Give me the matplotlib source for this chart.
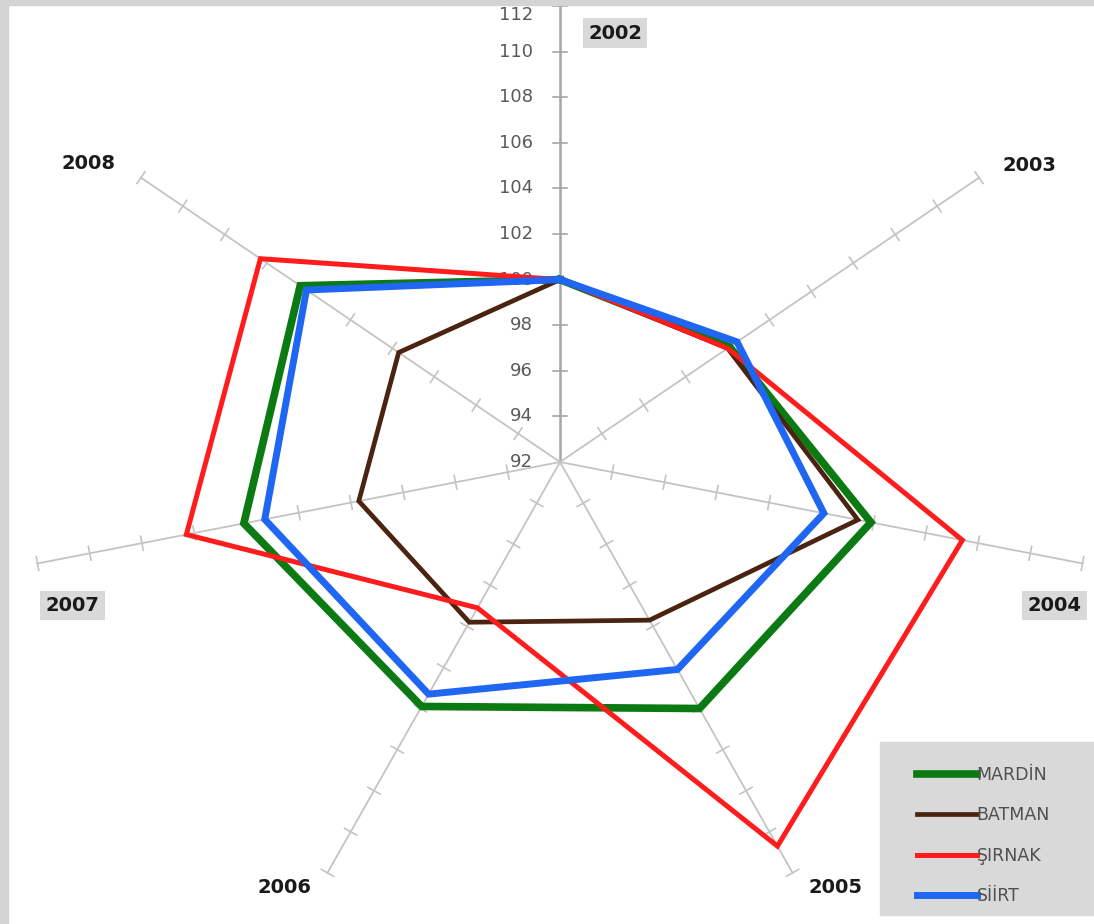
import numpy as np
import matplotlib.pyplot as plt
from matplotlib.patches import Rectangle

years = ['2002', '2003', '2004', '2005', '2006', '2007', '2008']
mardin = [100.0, 100.1, 103.9, 104.0, 103.9, 104.1, 104.4]
batman = [100.0, 100.0, 103.4, 99.7, 99.8, 99.7, 99.7]
sirnak = [100.0, 100.0, 107.4, 110.7, 99.1, 106.3, 106.3]
siirt = [100.0, 100.45, 102.1, 102.1, 103.3, 103.3, 104.1]
names = ['MARDİN', 'BATMAN', 'ŞIRNAK', 'SİİRT']

r_min, r_max, r_step = 92, 112, 2

# pixels per unit along x and y (the chart is a bit wider than tall)
sx, sy = 26.8, 22.8
cx, cy = 560, 462
W, H = 1094, 924

n = len(years)
angles = np.pi / 2 - np.arange(n) * 2 * np.pi / n


def to_xy(vals):
    r = np.asarray(vals) - r_min
    x = r * np.cos(angles)
    y = r * np.sin(angles)
    return np.append(x, x[0]), np.append(y, y[0])


fig = plt.figure(figsize=(W / 100, H / 100), dpi=100)
ax = fig.add_axes([0, 0, 1, 1])
ax.set_xlim(-cx / sx, (W - cx) / sx)
ax.set_ylim(-(H - cy) / sy, cy / sy)
ax.axis('off')

# spokes with small cross ticks every 2 units
R = r_max - r_min
for i, a in enumerate(angles):
    c, s = np.cos(a), np.sin(a)
    main = i == 0
    col = '#a6a6a6' if main else '#c4c4c4'
    ax.plot([0, R * c], [0, R * s], color=col, lw=1.8 if main else 1.3, zorder=1)
    dx, dy = c * sx, s * sy
    L = np.hypot(dx, dy)
    px, py = -dy / L, dx / L
    half = 7
    for v in range(r_min + r_step, r_max + 1, r_step):
        t = v - r_min
        ax.plot([t * c - half * px / sx, t * c + half * px / sx],
                [t * s - half * py / sy, t * s + half * py / sy],
                color=col, lw=1.2, zorder=1)

# value labels on the first spoke
for v in range(r_min, r_max + 1, r_step):
    yv = v - r_min
    va = 'center'
    if v == r_max:
        yv = (cy - 6) / sy
        va = 'top'
    ax.text(-1.0, yv, str(v), ha='right', va=va,
            fontsize=13, color='#5a5a5a', zorder=2)

# category labels
offsets = [(55, -27), (50, 12), (-28, -42), (43, -15), (-43, -15), (35, -42), (-52, 14)]
boxed = {'2002', '2004', '2007'}
for yr, a, off in zip(years, angles, offsets):
    kw = {}
    if yr in boxed:
        kw['bbox'] = dict(boxstyle='square,pad=0.28', fc='#d9d9d9', ec='none')
    ax.annotate(yr, (R * np.cos(a), R * np.sin(a)), xytext=off,
                textcoords='offset pixels', ha='center', va='center',
                fontsize=14, fontweight='bold', color='#1a1a1a', **kw)

series = [
    (mardin, '#0b7a12', 5.5),
    (batman, '#4a2410', 3.4),
    (sirnak, '#ff1c1c', 3.6),
    (siirt, '#1f66f2', 5.0),
]
handles = []
for (vals, col, lw), name in zip(series, names):
    x, y = to_xy(vals)
    h, = ax.plot(x, y, color=col, lw=lw, solid_joinstyle='miter', zorder=3, label=name)
    handles.append(h)

# legend panel running off the right edge
fig.patches.append(Rectangle((880 / W, 1 - 915 / H), (W - 880) / W, (915 - 742) / H,
                             transform=fig.transFigure, color='#d9d9d9', zorder=0))
leg = fig.legend(handles, names, loc='upper left',
                 bbox_to_anchor=(908 / W, 1 - 757 / H),
                 frameon=False, fontsize=12.5,
                 handlelength=3.45, handletextpad=0.0, labelspacing=1.3,
                 borderpad=0.0)
for t in leg.get_texts():
    t.set_color('#505050')

# light grey frame along left and top edges
fig.patches.append(Rectangle((0, 0), 8 / W, 1, transform=fig.transFigure,
                             color='#d4d4d4', zorder=0))
fig.patches.append(Rectangle((0, 1 - 5 / H), 1, 5 / H, transform=fig.transFigure,
                             color='#d4d4d4', zorder=0))

fig.savefig('out.png', dpi=100)
